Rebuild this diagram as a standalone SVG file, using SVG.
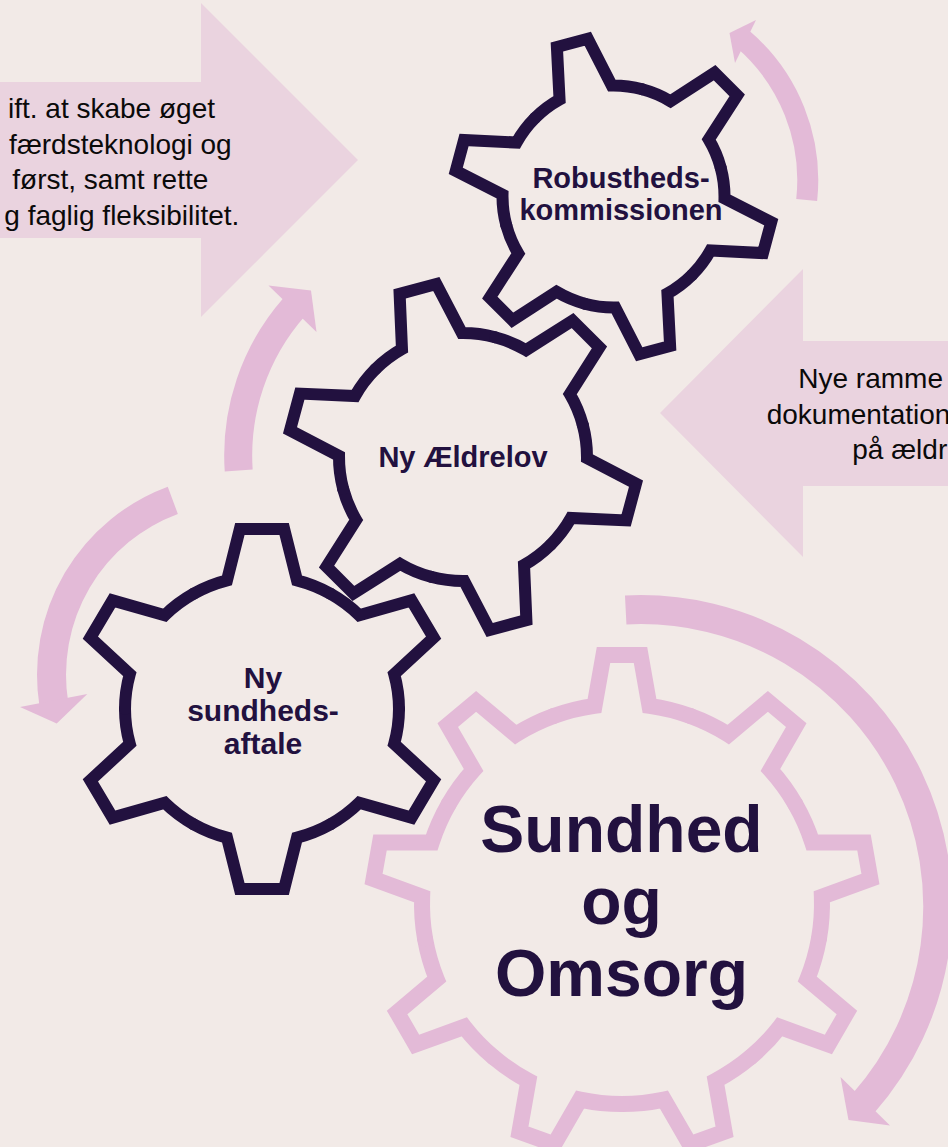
<svg xmlns="http://www.w3.org/2000/svg" width="948" height="1147" viewBox="0 0 948 1147">
<defs>
<style>
.bigarrow{fill:#EAD3DF}
.band{fill:none;stroke:#E3BAD7;stroke-linecap:butt}
.head{fill:#E3BAD7}
.gd{fill:none;stroke:#22113F;stroke-width:12;stroke-linejoin:miter;stroke-linecap:round}
.gp{fill:none;stroke:#E3BAD7;stroke-width:16;stroke-linejoin:miter;stroke-linecap:round}
.side{font-family:"Liberation Sans",Arial,sans-serif;font-size:28px;fill:#0A0A0A}
.label{font-family:"Liberation Sans",Arial,sans-serif;font-weight:bold;fill:#22113F;text-anchor:middle}
</style>
<path id="t1" vector-effect="non-scaling-stroke" d="M-55.5,-96.13 A111,111 0 0 1 -27,-107.67 L-16,-159 L16,-159 L27,-107.67 A111,111 0 0 1 55.5,-96.13"/>
<path id="t2" vector-effect="non-scaling-stroke" d="M-62,-107.39 A124,124 0 0 1 -31,-120.06 L-19,-174 L19,-174 L31,-120.06 A124,124 0 0 1 62,-107.39"/>
<path id="t3" vector-effect="non-scaling-stroke" d="M-66.5,-115.18 A133,133 0 0 1 -34,-128.58 L-21.5,-180 L21.5,-180 L34,-128.58 A133,133 0 0 1 66.5,-115.18"/>
<path id="t4" vector-effect="non-scaling-stroke" d="M-68.4,-187.94 A200,200 0 0 1 -27.5,-198.1 L-18.5,-249 L18.5,-249 L27.5,-198.1 A200,200 0 0 1 68.4,-187.94"/>
</defs>
<rect width="948" height="1147" fill="#F2EAE7"/>

<g id="input-arrow-left">
<polygon class="bigarrow" points="0,82 201,82 201,3 358,160 201,317 201,238 0,238"/>
<text class="side" text-anchor="end"><tspan x="215" y="118">ift. at skabe øget</tspan><tspan x="231.7" y="153.7">færdsteknologi og</tspan><tspan x="208.3" y="189.4">først, samt rette</tspan><tspan x="239.3" y="225">g faglig fleksibilitet.</tspan></text>
</g>

<g id="input-arrow-right">
<polygon class="bigarrow" points="948,341 803,341 803,269 660,413 803,557 803,486 948,486"/>
<text class="side"><tspan x="798.3" y="388">Nye ramme</tspan><tspan x="766.7" y="423.5">dokumentation</tspan><tspan x="852.3" y="459">på ældr</tspan></text>
</g>

<g id="connectors">
<g id="cycle-robusthed">
<path class="band" stroke-width="21" d="M806.7,200 A186,186 0 0 0 742.5,38.8"/>
<polygon class="head" points="735,63 729.5,33 756,20"/>
</g>
<g id="cycle-aeldrelov">
<path class="band" stroke-width="28" d="M238.7,470.5 A225,225 0 0 1 294.2,306.9"/>
<polygon class="head" points="268.5,285.5 311,290.5 316.5,332"/>
</g>
<g id="cycle-sundhedsaftale">
<path class="band" stroke-width="29" d="M172.8,500.3 A186,186 0 0 0 53.7,703"/>
<polygon class="head" points="20,707 56.7,723.5 87.3,694"/>
</g>
<g id="cycle-sundhed-omsorg">
<path class="band" stroke-width="29" d="M625.7,610 A297,297 0 0 1 863.3,1103.3"/>
<polygon class="head" points="840.5,1077 848.5,1120 890,1125.5"/>
</g>
</g>

<g id="gear-sundhed-omsorg">
<g class="gp" transform="translate(622,904)">
<use href="#t4"/><use href="#t4" transform="rotate(40)"/><use href="#t4" transform="rotate(80)"/><use href="#t4" transform="rotate(120)"/><use href="#t4" transform="rotate(160)"/><use href="#t4" transform="rotate(200)"/><use href="#t4" transform="rotate(240)"/><use href="#t4" transform="rotate(280)"/><use href="#t4" transform="rotate(320)"/>
</g>
<text class="label" font-size="66"><tspan x="621.5" y="852">Sundhed</tspan><tspan x="621.5" y="924">og</tspan><tspan x="621.5" y="996">Omsorg</tspan></text>
</g>

<g id="gear-sundhedsaftale">
<g class="gd" transform="translate(262,709) scale(1.03,1)">
<use href="#t3"/><use href="#t3" transform="rotate(60)"/><use href="#t3" transform="rotate(120)"/><use href="#t3" transform="rotate(180)"/><use href="#t3" transform="rotate(240)"/><use href="#t3" transform="rotate(300)"/>
</g>
<text class="label" font-size="30"><tspan x="263" y="688">Ny</tspan><tspan x="263" y="721">sundheds-</tspan><tspan x="263" y="754">aftale</tspan></text>
</g>

<g id="gear-aeldrelov">
<g class="gd" transform="translate(463,457) rotate(-15)">
<use href="#t2"/><use href="#t2" transform="rotate(60)"/><use href="#t2" transform="rotate(120)"/><use href="#t2" transform="rotate(180)"/><use href="#t2" transform="rotate(240)"/><use href="#t2" transform="rotate(300)"/>
</g>
<text class="label" font-size="29" x="463" y="467">Ny Ældrelov</text>
</g>

<g id="gear-robusthed">
<g class="gd" transform="translate(613.5,196.5) rotate(-15)">
<use href="#t1"/><use href="#t1" transform="rotate(60)"/><use href="#t1" transform="rotate(120)"/><use href="#t1" transform="rotate(180)"/><use href="#t1" transform="rotate(240)"/><use href="#t1" transform="rotate(300)"/>
</g>
<text class="label" font-size="29"><tspan x="621" y="188">Robustheds-</tspan><tspan x="621" y="220">kommissionen</tspan></text>
</g>
</svg>
